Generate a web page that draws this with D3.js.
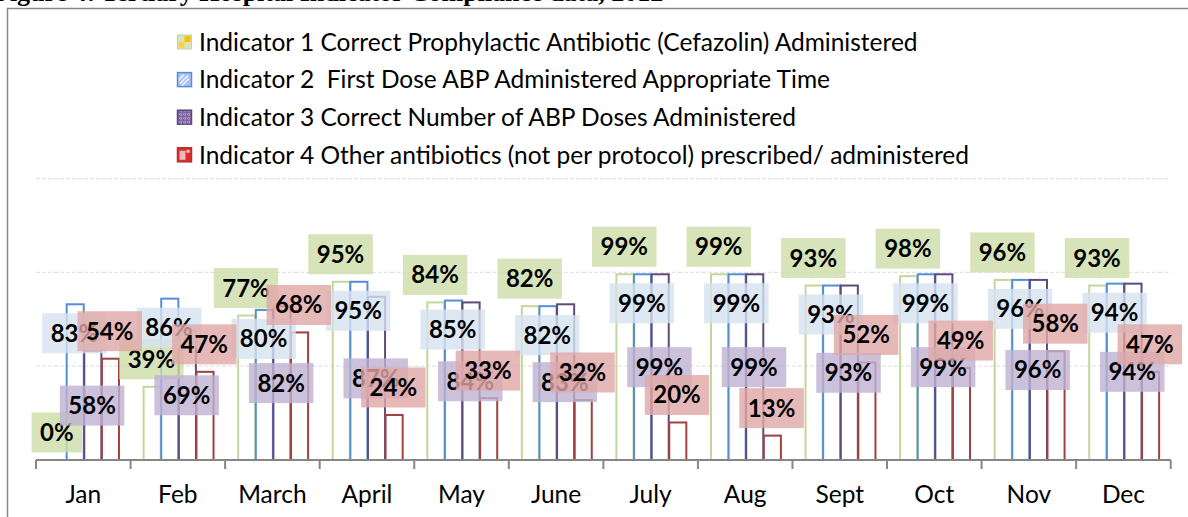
<!DOCTYPE html>
<html>
<head>
<meta charset="utf-8">
<script src="https://cdn.jsdelivr.net/npm/d3@7"></script>
<style>
  body { margin: 0; background: #fff; }
  svg { display: block; }
</style>
</head>
<body>
<div id="chart"></div>
<script>
const months = ["Jan", "Feb", "March", "April", "May", "June", "July", "Aug", "Sept", "Oct", "Nov", "Dec"];
const indicator1 = [0, 39, 77, 95, 84, 82, 99, 99, 93, 98, 96, 93];
const indicator2 = [83, 86, 80, 95, 85, 82, 99, 99, 93, 99, 96, 94];
const indicator3 = [58, 69, 82, 87, 84, 83, 99, 99, 93, 99, 96, 94];
const indicator4 = [54, 47, 68, 24, 33, 32, 20, 13, 52, 49, 58, 47];
const seriesNames = [
  "Indicator 1 Correct Prophylactic Antibiotic (Cefazolin) Administered",
  "Indicator 2  First Dose ABP Administered Appropriate Time",
  "Indicator 3 Correct Number of ABP Doses Administered",
  "Indicator 4 Other antibiotics (not per protocol) prescribed/ administered"
];
const gridTicks = [0.5, 1, 1.5];
const titleText = "Figure 4: Tertiary Hospital Indicator Compliance data, 2012";

const W = 1188, H = 517;
const series = [
  { name: seriesNames[0], values: indicator1, stroke: "#c3d69b", box: "#cddda8", label: "outside" },
  { name: seriesNames[1], values: indicator2, stroke: "#558ed5", box: "#d6e2f0", label: "insideEnd" },
  { name: seriesNames[2], values: indicator3, stroke: "#604a7b", box: "#bfb1d2", label: "center" },
  { name: seriesNames[3], values: indicator4, stroke: "#a0413f", box: "#e0a7a6", label: "outside" }
];

const svg = d3.select("#chart")
  .append("svg")
  .attr("width", W)
  .attr("height", H);

// title, mostly cut off at the top
svg.append("text")
  .attr("x", -6)
  .attr("y", 1)
  .attr("font-family", "Liberation Serif, serif")
  .attr("font-weight", "bold")
  .attr("font-size", 26)
  .text(titleText);

// chart frame
svg.append("rect")
  .attr("x", 7.5)
  .attr("y", 8.5)
  .attr("width", 1300)
  .attr("height", 700)
  .attr("fill", "#fff")
  .attr("stroke", "#8a8a8a")
  .attr("stroke-width", 1.5);

const x0 = d3.scaleBand()
  .domain(months)
  .range([36, 1170.7])
  .paddingInner(0.2555)
  .paddingOuter(0.1277);

const x1 = d3.scaleBand()
  .domain(d3.range(series.length))
  .range([0, x0.bandwidth()]);

const y = d3.scaleLinear()
  .domain([0, 1.5])
  .range([460, 178.6]);

// gridlines
svg.append("g")
  .attr("class", "grid")
  .selectAll("line")
  .data(gridTicks)
  .join("line")
  .attr("x1", 36)
  .attr("x2", 1170.7)
  .attr("y1", (d) => y(d))
  .attr("y2", (d) => y(d))
  .attr("stroke", "#e3e3e3")
  .attr("stroke-width", 1.2)
  .attr("stroke-dasharray", "4,2");

// bars (outline only)
const groups = svg.append("g")
  .selectAll("g")
  .data(months)
  .join("g")
  .attr("transform", (d) => "translate(" + x0(d) + ",0)");

groups.selectAll("rect")
  .data((m, i) => series.map((s, k) => ({ k: k, v: s.values[i] / 100, s: s })))
  .join("rect")
  .attr("x", (d) => x1(d.k) + 1)
  .attr("y", (d) => y(d.v))
  .attr("width", x1.bandwidth() - 0.5)
  .attr("height", (d) => y(0) - y(d.v))
  .attr("fill", "none")
  .attr("stroke", (d) => d.s.stroke)
  .attr("stroke-width", 2);

// category axis
const axis = svg.append("g")
  .attr("class", "x-axis")
  .attr("transform", "translate(0,460)")
  .call(d3.axisBottom(x0).tickSize(0).tickPadding(0));
axis.select(".domain").remove();
axis.selectAll("text")
  .attr("y", 43)
  .attr("dy", 0)
  .attr("fill", "#000")
  .attr("font-family", "Lato, sans-serif")
  .attr("font-size", 24.5);

const bounds = d3.range(months.length + 1).map((i) => 36 + i * x0.step());
axis.append("line")
  .attr("x1", 36)
  .attr("x2", 1170.7)
  .attr("stroke", "#868686")
  .attr("stroke-width", 2);
axis.selectAll(".bound")
  .data(bounds)
  .join("line")
  .attr("class", "bound")
  .attr("x1", (d) => d)
  .attr("x2", (d) => d)
  .attr("y1", 0)
  .attr("y2", 9)
  .attr("stroke", "#868686")
  .attr("stroke-width", 2);

// data labels, drawn series by series
const labels = svg.append("g").attr("class", "labels");
series.forEach((s, k) => {
  s.values.forEach((v, i) => {
    const cx = x0(months[i]) + x1(k) + x1.bandwidth() / 2;
    const top = y(v / 100);
    let cy;
    if (s.label === "outside") cy = top - 27.5;
    else if (s.label === "insideEnd") cy = top + 29;
    else cy = (top + y(0)) / 2;

    const g = labels.append("g");
    const box = g.append("rect");
    const t = g.append("text")
      .attr("text-anchor", "middle")
      .attr("font-family", "Lato, sans-serif")
      .attr("font-weight", "bold")
      .attr("font-size", 24)
      .attr("fill", "#000")
      .text(v + "%");
    const bw = t.node().getComputedTextLength() + 17;
    let bx = cx - bw / 2;
    if (bx + bw > W + 1) bx = W + 1 - bw;
    t.attr("x", bx + bw / 2).attr("y", cy + 8.5);
    box.attr("x", bx)
      .attr("y", cy - 20)
      .attr("width", bw)
      .attr("height", 40)
      .attr("fill", s.box)
      .attr("fill-opacity", 0.8);
  });
});

// legend
const legend = svg.append("g")
  .attr("class", "legend")
  .attr("transform", "translate(177,42)");
const rows = legend.selectAll("g")
  .data(series)
  .join("g")
  .attr("transform", (d, i) => "translate(0," + i * 37.6 + ")");

rows.append("text")
  .attr("x", 22)
  .attr("y", 8.8)
  .attr("font-family", "Lato, sans-serif")
  .attr("font-size", 24.5)
  .attr("fill", "#000")
  .style("white-space", "pre")
  .text((d) => d.name);

// legend swatches with a rough pattern like the original
const sw = 14;
const m0 = rows.filter((d, i) => i === 0);
m0.append("rect").attr("x", 0.5).attr("y", -7).attr("width", sw).attr("height", sw)
  .attr("fill", "#d7e4bd").attr("stroke", "#c3d69b");
m0.append("rect").attr("x", 7.5).attr("y", -6).attr("width", 6).attr("height", 6).attr("fill", "#ffc000");
m0.append("rect").attr("x", 1.5).attr("y", 0).attr("width", 6).attr("height", 6).attr("fill", "#ffd24a");

const m1 = rows.filter((d, i) => i === 1);
m1.append("rect").attr("x", 0.5).attr("y", -7).attr("width", sw).attr("height", sw)
  .attr("fill", "#a9c4eb").attr("stroke", "#558ed5").attr("stroke-width", 1.5);
m1.append("path").attr("d", "M3,4L11,-4M5,6L12,-1M2,0L7,-5")
  .attr("stroke", "#e8f0fb").attr("stroke-width", 1.5);

const m2 = rows.filter((d, i) => i === 2);
m2.append("rect").attr("x", 0.5).attr("y", -7).attr("width", sw).attr("height", sw)
  .attr("fill", "#7b62a0").attr("stroke", "#604a7b").attr("stroke-width", 1.5);
m2.append("path").attr("d", "M2,-3H13M2,1H13M2,5H13M4,-6V7M8,-6V7M12,-6V7")
  .attr("stroke", "#c9bcdc").attr("stroke-width", 1).attr("stroke-dasharray", "1,1");

const m3 = rows.filter((d, i) => i === 3);
m3.append("rect").attr("x", 0.5).attr("y", -7).attr("width", sw).attr("height", sw)
  .attr("fill", "#e02b2b").attr("stroke", "#b03030").attr("stroke-width", 1.5);
m3.append("rect").attr("x", 2.5).attr("y", -4).attr("width", 6).attr("height", 9).attr("fill", "#f4b8b8");
m3.append("rect").attr("x", 9.5).attr("y", -5).attr("width", 3).attr("height", 3).attr("fill", "#f7cccc");
</script>
</body>
</html>
